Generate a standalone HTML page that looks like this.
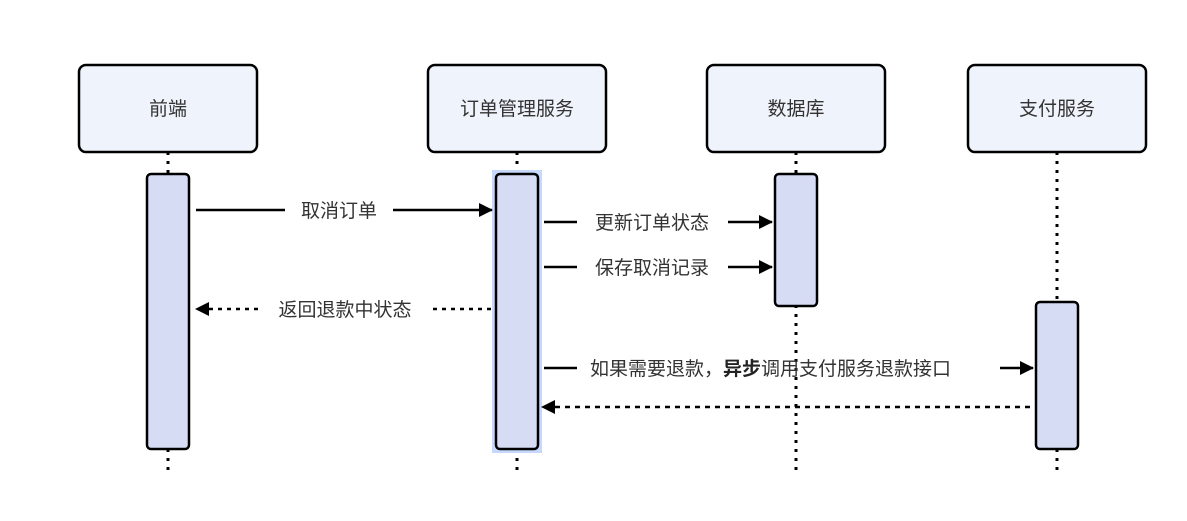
<!DOCTYPE html>
<html><head><meta charset="utf-8"><style>
html,body{margin:0;padding:0;background:#fff;width:1187px;height:521px;overflow:hidden}
text{font-family:"Liberation Sans","Noto Sans CJK SC",sans-serif;font-size:19px;fill:#333}
</style></head><body>
<svg width="1187" height="521" viewBox="0 0 1187 521" xmlns="http://www.w3.org/2000/svg">
<defs><marker id="a" markerWidth="10" markerHeight="10" refX="9" refY="5" orient="auto" markerUnits="userSpaceOnUse"><path d="M0,0 L10,5 L0,10 z" fill="#000"/></marker>
<marker id="b" markerWidth="14" markerHeight="14" refX="13" refY="7" orient="auto" markerUnits="userSpaceOnUse"><path d="M0,0 L14,7 L0,14 z" fill="#000"/></marker></defs>
<g stroke="#000" stroke-width="3" stroke-dasharray="3,6">
<line x1="168" y1="152" x2="168" y2="472"/>
<line x1="517" y1="152" x2="517" y2="472"/>
<line x1="796" y1="152" x2="796" y2="472"/>
<line x1="1057" y1="152" x2="1057" y2="472"/>
</g>
<g fill="#eff3fc" stroke="#000" stroke-width="2.5">
<rect x="79" y="65" width="178" height="87" rx="7"/>
<rect x="428" y="65" width="178" height="87" rx="7"/>
<rect x="707" y="65" width="178" height="87" rx="7"/>
<rect x="968" y="65" width="178" height="87" rx="7"/>
</g>
<g text-anchor="middle">
<text x="168" y="115">前端</text>
<text x="517" y="115">订单管理服务</text>
<text x="796" y="115">数据库</text>
<text x="1057" y="115">支付服务</text>
</g>
<rect x="492" y="170" width="50" height="283" fill="#c6d8fb"/>
<g fill="#d5dcf4" stroke="#000" stroke-width="2.5">
<rect x="147" y="174" width="42" height="275" rx="4"/>
<rect x="496" y="174" width="42" height="275" rx="4"/>
<rect x="775" y="174" width="42" height="132" rx="4"/>
<rect x="1036" y="302" width="42" height="147" rx="4"/>
</g>
<g stroke="#000" stroke-width="2.5" fill="none">
<line x1="196" y1="210" x2="285" y2="210"/>
<line x1="393" y1="210" x2="492" y2="210" marker-end="url(#b)"/>
<line x1="544" y1="222" x2="577" y2="222"/>
<line x1="728" y1="222" x2="772" y2="222" marker-end="url(#b)"/>
<line x1="544" y1="267" x2="577" y2="267"/>
<line x1="728" y1="267" x2="772" y2="267" marker-end="url(#b)"/>
<line x1="491" y1="309" x2="430" y2="309" stroke-dasharray="4,5"/>
<line x1="258" y1="309" x2="196" y2="309" stroke-dasharray="4,5" marker-end="url(#b)"/>
<line x1="544" y1="368" x2="577" y2="368"/>
<line x1="1000" y1="368" x2="1033" y2="368" marker-end="url(#b)"/>
<line x1="1030" y1="407" x2="542" y2="407" stroke-dasharray="5,5" marker-end="url(#b)"/>
</g>
<g text-anchor="middle">
<text x="339" y="217">取消订单</text>
<text x="652" y="229">更新订单状态</text>
<text x="652" y="274">保存取消记录</text>
<text x="345" y="316">返回退款中状态</text>
</g>
<text x="590" y="375">如果需要退款，<tspan font-weight="bold" fill="#222">异步</tspan>调用支付服务退款接口</text>
</svg>
</body></html>
